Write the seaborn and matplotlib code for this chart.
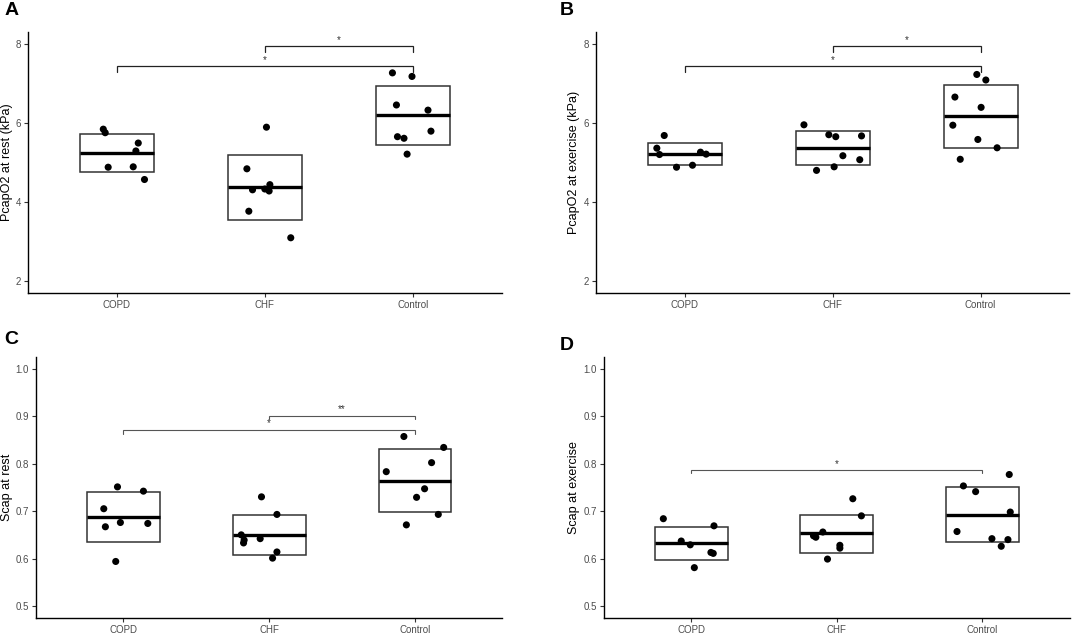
import numpy as np
import pandas as pd
import matplotlib
matplotlib.use("Agg")
import matplotlib.pyplot as plt
import seaborn as sns

groups = ["COPD", "CHF", "Control"]

# ---------------- Panel A: PcapO2 at rest (kPa)
a_copd = [5.84, 5.75, 5.49, 5.29, 4.88, 4.89, 4.57]
a_chf = [5.89, 4.84, 4.31, 4.33, 4.44, 4.28, 3.77, 3.10]
a_ctrl = [7.26, 7.17, 6.45, 6.32, 5.79, 5.65, 5.61, 5.21]
a_copd_jit = [-0.09, -0.077, 0.146, 0.13, -0.057, 0.112, 0.188]
a_chf_jit = [0.011, -0.121, -0.083, 0.0, 0.034, 0.029, -0.108, 0.175]
a_ctrl_jit = [-0.139, -0.007, -0.112, 0.101, 0.121, -0.105, -0.061, -0.04]
a_box_lo = [4.76, 3.56, 5.44]
a_box_mid = [5.25, 4.38, 6.19]
a_box_hi = [5.72, 5.18, 6.93]
a_brackets = [("CHF", "Control", 7.93, "*"), ("COPD", "Control", 7.43, "*")]

# ---------------- Panel B: PcapO2 at exercise (kPa)
b_copd = [5.68, 5.36, 5.20, 5.26, 5.21, 4.88, 4.93]
b_chf = [5.95, 5.70, 5.65, 5.67, 5.17, 5.07, 4.89, 4.80]
b_ctrl = [7.22, 7.08, 6.65, 6.39, 5.94, 5.58, 5.37, 5.08]
b_copd_jit = [-0.137, -0.187, -0.169, 0.108, 0.146, -0.054, 0.054]
b_chf_jit = [-0.193, -0.025, 0.022, 0.196, 0.07, 0.184, 0.011, -0.108]
b_ctrl_jit = [-0.025, 0.036, -0.173, 0.004, -0.187, -0.018, 0.112, -0.137]
b_box_lo = [4.94, 4.93, 5.37]
b_box_mid = [5.22, 5.36, 6.16]
b_box_hi = [5.48, 5.79, 6.95]
b_brackets = [("CHF", "Control", 7.93, "*"), ("COPD", "Control", 7.43, "*")]

# ---------------- Panel C: Scap at rest
c_copd = [0.751, 0.742, 0.705, 0.676, 0.674, 0.667, 0.594]
c_chf = [0.730, 0.693, 0.650, 0.642, 0.639, 0.633, 0.614, 0.601]
c_ctrl = [0.857, 0.834, 0.802, 0.783, 0.747, 0.729, 0.693, 0.671]
c_copd_jit = [-0.041, 0.137, -0.135, -0.021, 0.167, -0.124, -0.053]
c_chf_jit = [-0.053, 0.053, -0.192, -0.062, -0.172, -0.176, 0.053, 0.023]
c_ctrl_jit = [-0.076, 0.197, 0.114, -0.197, 0.066, 0.011, 0.160, -0.059]
c_box_lo = [0.635, 0.607, 0.698]
c_box_mid = [0.687, 0.649, 0.764]
c_box_hi = [0.740, 0.692, 0.831]
c_brackets = [("CHF", "Control", 0.901, "**"), ("COPD", "Control", 0.871, "*")]

# ---------------- Panel D: Scap at exercise
d_copd = [0.684, 0.669, 0.637, 0.629, 0.613, 0.611, 0.581]
d_chf = [0.726, 0.690, 0.656, 0.648, 0.645, 0.628, 0.622, 0.599]
d_ctrl = [0.777, 0.753, 0.741, 0.698, 0.657, 0.642, 0.640, 0.626]
d_copd_jit = [-0.192, 0.156, -0.069, -0.007, 0.135, 0.151, 0.021]
d_chf_jit = [0.110, 0.169, -0.096, -0.160, -0.144, 0.021, 0.021, -0.064]
d_ctrl_jit = [0.185, -0.130, -0.046, 0.192, -0.174, 0.066, 0.176, 0.130]
d_box_lo = [0.597, 0.612, 0.634]
d_box_mid = [0.633, 0.653, 0.692]
d_box_hi = [0.667, 0.692, 0.750]
d_brackets = [("COPD", "Control", 0.786, "*")]

sns.set_theme(style="ticks")
plt.rcParams["font.family"] = ["Liberation Sans", "DejaVu Sans"]

fig = plt.figure(figsize=(10.72, 6.33), dpi=100)


def panel(rect, vals, jits, lo, mid, hi, brackets, ylabel, ylim, yticks, fmt,
          tip, bcolor, blw, label_right):
    ax = fig.add_axes(rect)
    rows = []
    for gi, (g, v, j) in enumerate(zip(groups, vals, jits)):
        for y, dx in zip(v, j):
            rows.append({"group": g, "value": y, "pos": gi + dx})
    df = pd.DataFrame(rows)
    xs = np.arange(len(groups))
    lo = np.array(lo)
    hi = np.array(hi)
    ax.bar(xs, hi - lo, bottom=lo, width=0.5, fill=False,
           edgecolor="#333333", linewidth=1.1, zorder=2)
    ax.hlines(mid, xs - 0.25, xs + 0.25, color="black", linewidth=2.4, zorder=3)
    sns.scatterplot(data=df, x="pos", y="value", ax=ax, color="black", s=26,
                    edgecolor="none", zorder=4, legend=False)
    for g1, g2, y, lab in brackets:
        x1, x2 = groups.index(g1), groups.index(g2)
        ax.plot([x1, x1, x2, x2], [y - tip, y, y, y - tip], color=bcolor,
                linewidth=blw, zorder=5, solid_joinstyle="miter")
        ax.annotate(lab, xy=((x1 + x2) / 2, y), xytext=(0, 1),
                    textcoords="offset points", ha="center", va="bottom",
                    fontsize=7, color="#333333")
    ax.set_xlim(-0.6, len(groups) - 0.4)
    ax.set_ylim(*ylim)
    ax.set_xticks(xs)
    ax.set_xticklabels(groups)
    ax.set_yticks(yticks)
    ax.set_yticklabels([fmt.format(t) for t in yticks])
    ax.set_xlabel("")
    ax.set_ylabel(ylabel, fontsize=9, color="black")
    # y label's right edge placed at the given figure pixel x
    axw_px = rect[2] * 1072
    axl_px = rect[0] * 1072
    ax.yaxis.set_label_coords((label_right - axl_px) / axw_px, 0.5)
    sns.despine(ax=ax)
    for s in ("left", "bottom"):
        ax.spines[s].set_color("black")
        ax.spines[s].set_linewidth(1.0)
    ax.tick_params(axis="both", labelsize=7, labelcolor="#4D4D4D",
                   color="#333333", length=3, width=0.8, pad=2)
    ax.set_facecolor("white")
    return ax


panel([0.02584, 0.5367, 0.4424, 0.4133],
      [a_copd, a_chf, a_ctrl], [a_copd_jit, a_chf_jit, a_ctrl_jit],
      a_box_lo, a_box_mid, a_box_hi, a_brackets,
      "PcapO2 at rest (kPa)", (1.7, 8.3), [2, 4, 6, 8], "{:.0f}",
      0.14, "#222222", 0.9, 13.5)
panel([0.5557, 0.5367, 0.4418, 0.4133],
      [b_copd, b_chf, b_ctrl], [b_copd_jit, b_chf_jit, b_ctrl_jit],
      b_box_lo, b_box_mid, b_box_hi, b_brackets,
      "PcapO2 at exercise (kPa)", (1.7, 8.3), [2, 4, 6, 8], "{:.0f}",
      0.14, "#222222", 0.9, 580)
panel([0.03358, 0.0237, 0.4351, 0.4128],
      [c_copd, c_chf, c_ctrl], [c_copd_jit, c_chf_jit, c_ctrl_jit],
      c_box_lo, c_box_mid, c_box_hi, c_brackets,
      "Scap at rest", (0.475, 1.025), [0.5, 0.6, 0.7, 0.8, 0.9, 1.0], "{:.1f}",
      0.008, "#555555", 0.8, 13)
panel([0.5634, 0.0237, 0.4344, 0.4128],
      [d_copd, d_chf, d_ctrl], [d_copd_jit, d_chf_jit, d_ctrl_jit],
      d_box_lo, d_box_mid, d_box_hi, d_brackets,
      "Scap at exercise", (0.475, 1.025), [0.5, 0.6, 0.7, 0.8, 0.9, 1.0], "{:.1f}",
      0.006, "#555555", 0.8, 580)

for lab, x, y in [("A", 5, 2), ("B", 560, 2), ("C", 4, 331), ("D", 560, 337)]:
    fig.text(x / 1072, 1 - y / 633, lab, fontsize=14, fontweight="bold",
             ha="left", va="top", color="black")

fig.savefig("out.png", dpi=100, facecolor="white")
